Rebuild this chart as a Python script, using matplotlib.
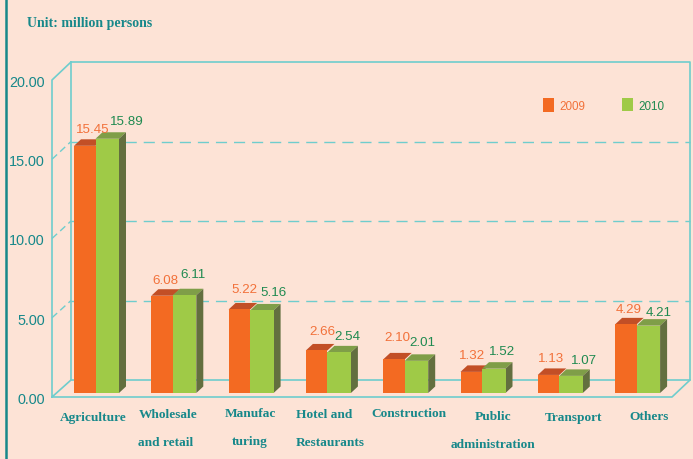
import numpy as np
import matplotlib
matplotlib.use('Agg')
import matplotlib.pyplot as plt
from matplotlib.patches import Polygon, Rectangle

# datos
categories = ['Agriculture', 'Wholesale\nand retail', 'Manufac\nturing', 'Hotel and\nRestaurants',
              'Construction', 'Public\nadministration', 'Transport', 'Others']
values_2009 = [15.45, 6.08, 5.22, 2.66, 2.10, 1.32, 1.13, 4.29]
values_2010 = [15.89, 6.11, 5.16, 2.54, 2.01, 1.52, 1.07, 4.21]
y_ticks = [0, 5, 10, 15, 20]

BG = '#fde3d6'
TEAL = '#17888a'
LINE = '#6fcdcd'
ORANGE = '#f36a22'
ORANGE_TOP = '#c24f26'
GREEN = '#9fca47'
GREEN_TOP = '#7f9e48'
GREEN_SIDE = '#636f3f'
TXT_ORANGE = '#f2713a'
TXT_GREEN = '#1f8a50'
NARROW = ['Liberation Sans', 'DejaVu Sans']
SERIF = ['Liberation Serif', 'DejaVu Serif']

# escala: x en pixeles de la figura, y en millones (0 en p=394, 16 px por unidad)
PX = 16.0
BASE = 394.0


def py(p):
    return (BASE - p) / PX


fig = plt.figure(figsize=(6.93, 4.60), dpi=100, facecolor=BG)
ax = fig.add_axes([0, 0, 1, 1])
ax.set_xlim(0, 693)
ax.set_ylim(py(460), py(0))
ax.axis('off')

# linea vertical izquierda
ax.plot([6, 6], [py(0), py(460)], color=TEAL, lw=1.8)

# caja 3D
ax.plot([52, 52, 71, 690, 690, 672, 52, 71, 71],
        [py(398), py(81), py(63), py(63), py(381), py(398), py(398), py(381), py(63)],
        color=LINE, lw=1.2, zorder=1)
ax.plot([71, 690], [py(381), py(381)], color=LINE, lw=1.2, zorder=1)

# lineas de grilla (pared del fondo y lateral)
for v in y_ticks[1:-1]:
    back = 381 - v * 15.9
    front = 398 - v * 15.85
    ax.plot([71, 690], [py(back), py(back)], color=LINE, lw=1.0, dashes=(8, 5), zorder=1)
    ax.plot([52, 71], [py(front), py(back)], color=LINE, lw=1.0, dashes=(5, 3), zorder=1)
for v in y_ticks:
    ax.text(45, py(400 - v * 15.85), f'{v:.2f}', color=TEAL, fontsize=10.4, family=NARROW,
            ha='right', va='center')

# barras con cara frontal, tapa y lado
centers = 95.5 + 77.3 * np.arange(len(categories))
DX = 7
DY = 6.5
w1 = 21.5
w2 = 23.5
for c, a, b in zip(centers, values_2009, values_2010):
    x0 = c - w1
    ax.add_patch(Polygon([(x0, a), (x0 + DX, a + DY / PX), (c + DX, a + DY / PX), (c, a)],
                         fc=ORANGE_TOP, ec='none', zorder=3))
    ax.add_patch(Rectangle((x0, 0), w1, a, fc=ORANGE, ec='none', zorder=3))
    x1 = c + w2
    ax.add_patch(Polygon([(c, b), (c + DX, b + DY / PX), (x1 + DX, b + DY / PX), (x1, b)],
                         fc=GREEN_TOP, ec='none', zorder=4))
    ax.add_patch(Polygon([(x1, 0), (x1 + DX, DY / PX), (x1 + DX, b + DY / PX), (x1, b)],
                         fc=GREEN_SIDE, ec='none', zorder=4))
    ax.add_patch(Rectangle((c, 0), w2, b, fc=GREEN, ec='none', zorder=4))

# etiquetas de valores (desplazamiento en px desde el centro de la barra / la tapa)
offs_2009 = [(-3, 17), (-7, 16), (-6, 20), (-5, 19), (-7, 22), (-10, 17), (-8, 17), (-8, 15)]
offs_2010 = [(31.5, 18), (20, 21), (23, 18), (20, 16), (18, 19), (20, 18), (25, 16), (22, 14)]
for c, a, b, oa, ob in zip(centers, values_2009, values_2010, offs_2009, offs_2010):
    ax.text(c + oa[0], a + oa[1] / PX, f'{a:.2f}', color=TXT_ORANGE, fontsize=9.6, family=NARROW,
            ha='center', va='center', zorder=5)
    ax.text(c + ob[0], b + ob[1] / PX, f'{b:.2f}', color=TXT_GREEN, fontsize=9.6, family=NARROW,
            ha='center', va='center', zorder=5)

# etiquetas de categorias, una posicion por linea
label_dx = [[-2], [-5, -7], [0, 0], [-3.5, 3], [4.5], [11, 11], [14], [12]]
label_y = [418, 415, 414, 415, 414, 417, 418, 417]
for c, name, dxs, p in zip(centers, categories, label_dx, label_y):
    lines = name.split('\n')
    for i, t in enumerate(lines):
        ax.text(c + dxs[i], py(p + 28 * i), t, color=TEAL, fontsize=9.6, family=SERIF, weight='bold',
                ha='center', va='center', zorder=5)

# leyenda
ax.add_patch(Rectangle((543, py(113)), 11, 14 / PX, fc=ORANGE, ec='none'))
ax.text(559, py(107), '2009', color=TXT_ORANGE, fontsize=8.4, family=NARROW, va='center')
ax.add_patch(Rectangle((622, py(112)), 11, 13 / PX, fc=GREEN, ec='none'))
ax.text(638, py(107), '2010', color=TXT_GREEN, fontsize=8.4, family=NARROW, va='center')

ax.text(27, py(23), 'Unit: million persons', color=TEAL, fontsize=10, family=SERIF, weight='bold',
        va='center')

fig.savefig('out.png', dpi=100, facecolor=BG)
